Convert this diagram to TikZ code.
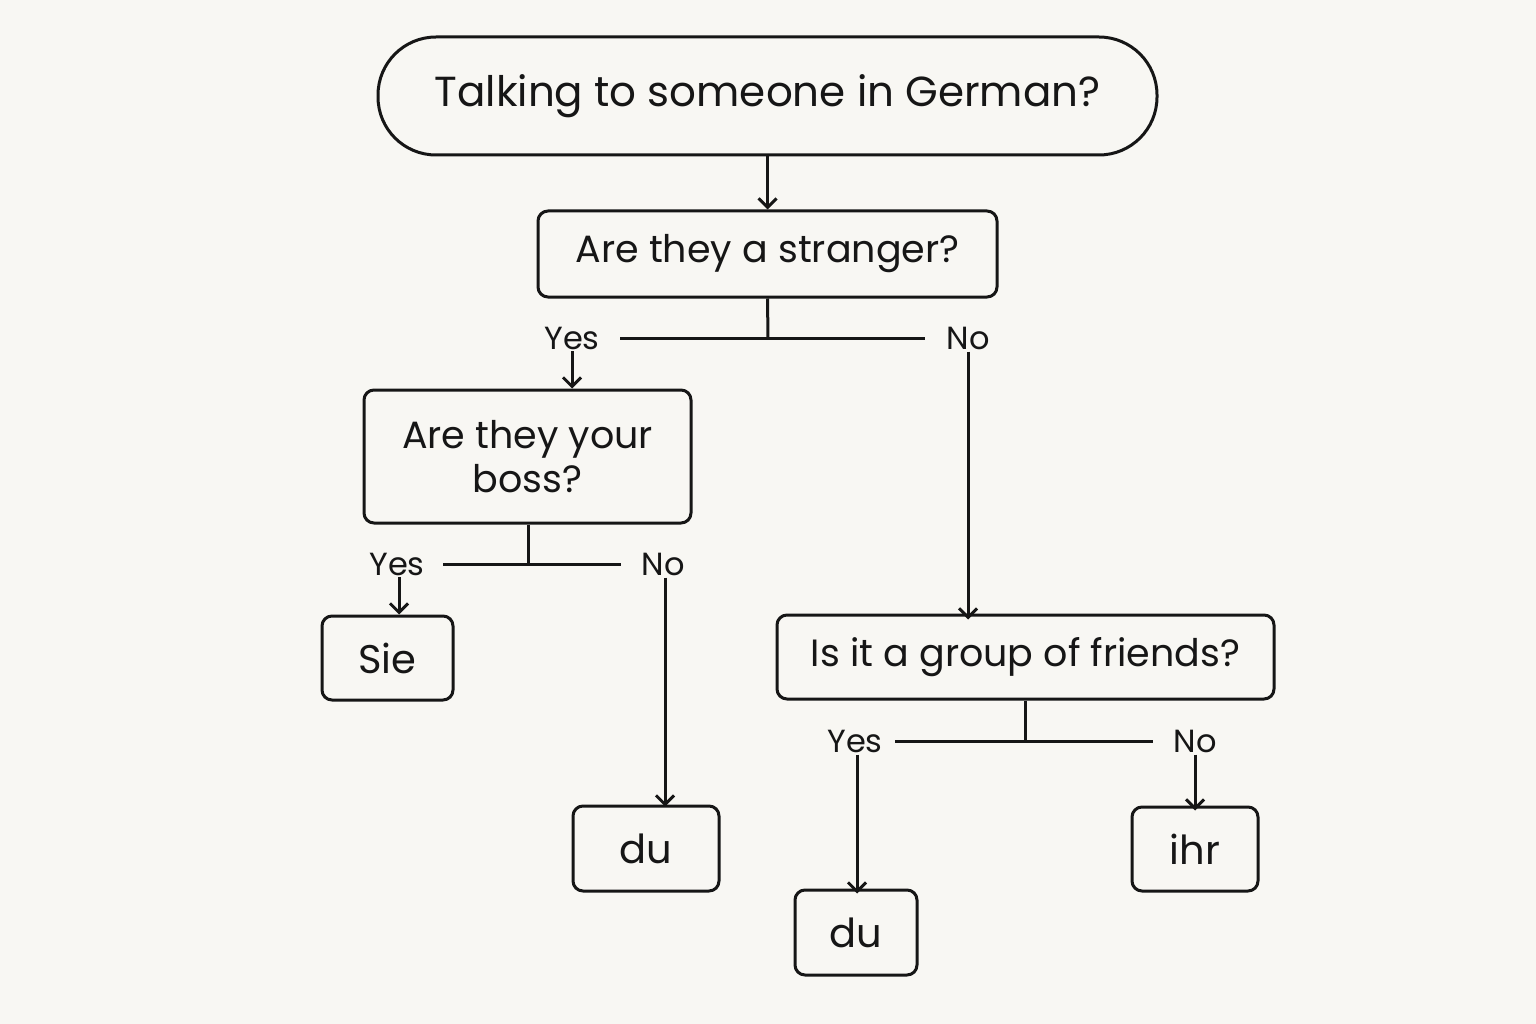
\documentclass[tikz,border=0pt]{standalone}
\usepackage{fontspec}
\setmainfont{Poppins}
\usetikzlibrary{arrows.meta}
\definecolor{bg}{HTML}{F8F7F3}
\definecolor{ink}{HTML}{161616}
\begin{document}
\begin{tikzpicture}[x=1pt,y=-1pt,
  box/.style={draw=ink,line width=3pt,rounded corners=10pt,inner sep=0pt,align=center,text=ink,font=\fontsize{38}{44}\selectfont},
  lbl/.style={text=ink,font=\fontsize{32}{36}\selectfont,inner sep=2pt},
  ln/.style={draw=ink,line width=3pt},
  arr/.style={ln,-{Straight Barb[length=9pt,width=18pt,line width=3pt]}}]
\fill[bg] (0,0) rectangle (1536,1024);
\useasboundingbox (0,0) rectangle (1536,1024);
\node[box,rounded corners=58pt,minimum width=779pt,minimum height=118pt,font=\fontsize{42}{48}\selectfont] (top) at (767.5,96) {Talking to someone in German?};
\node[box,minimum width=459pt,minimum height=86pt] (q1) at (767.5,254) {Are they a stranger?};
\node[box,minimum width=327pt,minimum height=133pt] (q2) at (527.5,456.5) {Are they your\\boss?};
\node[box,minimum width=131pt,minimum height=84pt,font=\fontsize{40}{44}\selectfont] (sie) at (387.5,658) {Sie};
\node[box,minimum width=146pt,minimum height=85pt,font=\fontsize{40}{44}\selectfont] (du1) at (646,848.5) {du};
\node[box,minimum width=497pt,minimum height=84pt] (q3) at (1025.5,657) {Is it a group of friends?};
\node[box,minimum width=122pt,minimum height=85pt,font=\fontsize{40}{44}\selectfont] (du2) at (856,932.5) {du};
\node[box,minimum width=126pt,minimum height=84pt,font=\fontsize{40}{44}\selectfont] (ihr) at (1195,849) {ihr};
\draw[arr] (top.south) -- (q1.north);
% branch 1
\node[lbl] (y1) at (572,338) {Yes};
\node[lbl] (n1) at (968,338) {No};
\coordinate (b1) at (768,338);
\draw[ln] (q1.south) -- (b1);
\draw[ln] (620,338) -- (925,338);
\draw[arr] (y1.south) -- (q2.north-|y1);
\draw[arr] (n1.south) -- ([yshift=-6pt]q3.north-|n1);
% branch 2
\node[lbl] (y2) at (397,564) {Yes};
\node[lbl] (n2) at (663,564) {No};
\coordinate (b2) at (528,564);
\draw[ln] (q2.south-|b2) -- (b2);
\draw[ln] (443,564) -- (621,564);
\draw[arr] ([xshift=2pt]y2.south) -- ([xshift=2pt]sie.north-|y2);
\draw[arr] ([xshift=2pt]n2.south) -- ([xshift=2pt,yshift=-2pt]du1.north-|n2);
% branch 3
\node[lbl] (y3) at (855,741) {Yes};
\node[lbl] (n3) at (1195,741) {No};
\coordinate (b3) at (1025,741);
\draw[ln] (q3.south-|b3) -- (b3);
\draw[ln] (895,741) -- (1153,741);
\draw[arr] ([xshift=2pt]y3.south) -- ([xshift=2pt,yshift=-5pt]du2.north-|y3);
\draw[arr] (n3.south) -- ([yshift=-5pt]ihr.north);
\end{tikzpicture}
\end{document}
